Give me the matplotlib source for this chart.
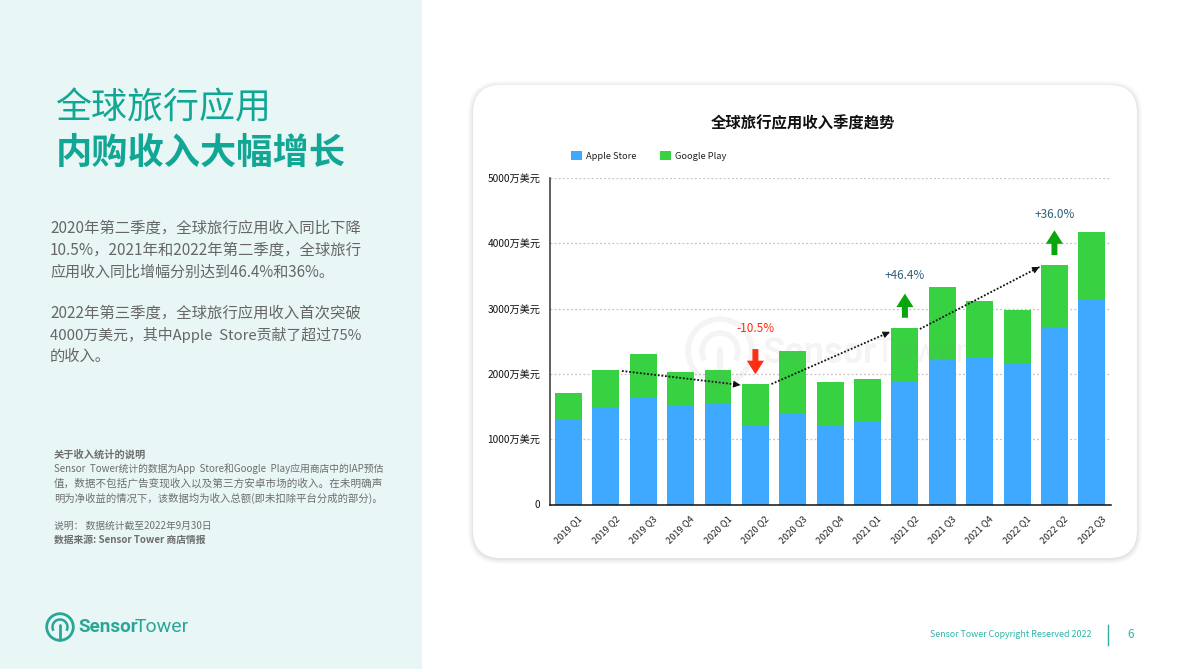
import matplotlib
matplotlib.use("Agg")
import matplotlib.pyplot as plt
from matplotlib.patches import FancyBboxPatch, Rectangle, Circle, Arc

plt.rcParams['font.family'] = ['Noto Sans CJK SC', 'DejaVu Sans']

# ---------- data ----------
quarters = ["2019 Q1", "2019 Q2", "2019 Q3", "2019 Q4", "2020 Q1", "2020 Q2", "2020 Q3", "2020 Q4",
            "2021 Q1", "2021 Q2", "2021 Q3", "2021 Q4", "2022 Q1", "2022 Q2", "2022 Q3"]
apple = [1294, 1482, 1646, 1508, 1539, 1202, 1401, 1202, 1279, 1880, 2228, 2248, 2167, 2718, 3136]
total = [1707, 2060, 2305, 2029, 2060, 1845, 2351, 1876, 1922, 2703, 3330, 3116, 2979, 3668, 4173]
google = [t - a for t, a in zip(total, apple)]
yticks = [0, 1000, 2000, 3000, 4000, 5000]
ytick_labels = ["0", "1000万美元", "2000万美元", "3000万美元", "4000万美元", "5000万美元"]
series_names = ["Apple Store", "Google Play"]
chart_title = "全球旅行应用收入季度趋势"
headline = ["全球旅行应用", "内购收入大幅增长"]
body_lines = ["2020年第二季度，全球旅行应用收入同比下降",
              "10.5%，2021年和2022年第二季度，全球旅行",
              "应用收入同比增幅分别达到46.4%和36%。",
              "2022年第三季度，全球旅行应用收入首次突破",
              "4000万美元，其中Apple  Store贡献了超过75%",
              "的收入。"]
note_lines = ["关于收入统计的说明",
              "Sensor  Tower统计的数据为App  Store和Google  Play应用商店中的IAP预估",
              "值，数据不包括广告变现收入以及第三方安卓市场的收入。在未明确声",
              "明为净收益的情况下，该数据均为收入总额(即未扣除平台分成的部分)。",
              "说明： 数据统计截至2022年9月30日",
              "数据来源: Sensor Tower 商店情报"]

W, H = 1190, 669
BLUE, GREEN = "#3EA9FF", "#38D142"
TEAL = "#12A795"
BRAND = ['Roboto', 'DejaVu Sans']
fig = plt.figure(figsize=(W / 100, H / 100), dpi=100, facecolor="white")

def pixel_axes(z):
    a = fig.add_axes([0, 0, 1, 1], zorder=z)
    a.set_xlim(0, W); a.set_ylim(H, 0); a.axis("off"); a.patch.set_alpha(0)
    return a

# ---------- page background ----------
bg = pixel_axes(0)
bg.add_patch(Rectangle((0, 0), 422, H, fc="#E9F6F6", ec="none"))
for grow, al in [(5, .12), (3.5, .18), (2, .25), (1, .35)]:
    bg.add_patch(FancyBboxPatch((473 - grow, 85 - grow + 1), 664 + 2 * grow, 473 + 2 * grow,
                                boxstyle="round,pad=0,rounding_size=%g" % (28 + grow),
                                fc="#D8D8D8", ec="none", alpha=al))
bg.add_patch(FancyBboxPatch((473, 85), 664, 473, boxstyle="round,pad=0,rounding_size=28",
                            fc="white", ec="none"))

bg.text(55.5, 108, headline[0], fontsize=25.9, color=TEAL, va="center", ha="left")
bg.text(55.5, 153, headline[1], fontsize=26.1, color=TEAL, va="center", ha="left", fontweight="bold")
for y, s, fs in zip([228, 250, 272, 313, 335, 356], body_lines,
                    [11.08, 11.08, 10.83, 11.08, 10.73, 11.0]):
    bg.text(50, y, s, fontsize=fs, color="#666666", va="center", ha="left")
for y, s, fs, w in zip([454.5, 469, 483.5, 498, 526, 540], note_lines,
                       [7.35, 7.07, 7.62, 7.44, 7.07, 7.05],
                       ["bold", "normal", "normal", "normal", "normal", "bold"]):
    bg.text(54, y, s, fontsize=fs, color="#6E6E6E", va="center", ha="left", fontweight=w)

# logo
LOGO = "#2AA697"
bg.add_patch(Circle((60, 627), 13.3, fc="none", ec=LOGO, lw=2.0))
bg.add_patch(Arc((60, 627), 15, 15, theta1=150, theta2=30, ec=LOGO, lw=1.8))
bg.plot([60, 60], [625, 640], color=LOGO, lw=2.0, solid_capstyle="round")
bg.text(78.5, 627, "Sensor", fontsize=13.6, family=BRAND, color=LOGO, fontweight="bold", va="center", ha="left")
bg.text(189, 627, "Tower", fontsize=14.0, family=BRAND, color=LOGO, va="center", ha="right")

# footer
bg.text(1092, 634.5, "Sensor Tower Copyright Reserved 2022", fontsize=6.37, color="#2DB5A8",
        va="center", ha="right")
bg.plot([1107.5, 1107.5], [625, 645], color="#2FAFA3", lw=1)
bg.text(1131, 634, "6", fontsize=8.5, color="#2DB5A8", va="center", ha="center")

# ---------- chart ----------
L, R, T, B = 550, 1110.5, 178, 504.5
ax = fig.add_axes([L / W, 1 - B / H, (R - L) / W, (B - T) / H], zorder=1)
ax.patch.set_alpha(0)
x = list(range(len(quarters)))
b1 = ax.bar(x, apple, width=0.72, color=BLUE, label=series_names[0], zorder=2)
b2 = ax.bar(x, google, bottom=apple, width=0.72, color=GREEN, label=series_names[1], zorder=2)
ax.set_xlim(-0.495, 14.5)
ax.set_ylim(0, 5000)
ax.set_yticks(yticks, ytick_labels)
ax.set_xticks(x, quarters)
ax.tick_params(axis="y", length=0, labelsize=7.3, pad=7, labelcolor="#111111")
ax.tick_params(axis="x", length=0, labelsize=6.7, pad=7, labelcolor="#222222")
for lab in ax.get_xticklabels():
    lab.set_rotation(45); lab.set_ha("center"); lab.set_va("top")
ax.grid(axis="y", color="#C4C4C4", lw=0.9, ls=(0, (1.5, 1.8)), zorder=1)
ax.set_axisbelow(True)
for s in ("top", "right"):
    ax.spines[s].set_visible(False)
ax.spines["left"].set_color("#333333"); ax.spines["left"].set_linewidth(1.1)
ax.spines["bottom"].set_color("#111111"); ax.spines["bottom"].set_linewidth(1.1)
ax.set_title(chart_title, x=(802.5 - L) / (R - L), y=(B - 123) / (B - T), fontsize=11.1, pad=0,
             fontweight="bold", color="#111111", va="center")
ax.legend(handles=[b1, b2], ncol=2, frameon=False, fontsize=6.7, loc="center left",
          bbox_to_anchor=((562 - L) / (R - L), (B - 156) / (B - T)),
          handlelength=1.18, handleheight=1.18, handletextpad=0.45, columnspacing=2.5,
          borderpad=0.5, labelcolor="#222222")

# trend arrows between compared quarters
def trend(i, j, dy0=0, dy1=0, dx0=0.43, dx1=-0.40):
    x0, y0, x1, y1 = i + dx0, total[i] + dy0, j + dx1, total[j] + dy1
    ax.plot([x0, x1], [y0, y1], color="#111111", lw=1.3, ls=(0, (1, 1)), zorder=4)
    f = 0.95
    ax.annotate("", xy=(x1, y1), xytext=(x0 + (x1 - x0) * f, y0 + (y1 - y0) * f), zorder=5,
                arrowprops=dict(arrowstyle="-|>,head_length=0.45,head_width=0.22", color="#111111",
                                lw=0.8, shrinkA=0, shrinkB=0, mutation_scale=9))
trend(1, 5, dy0=-15, dy1=-15)
trend(5, 9, dy0=0, dy1=-60, dx0=0.43, dx1=-0.40)
trend(9, 13, dy0=-15, dy1=-30, dx0=0.40, dx1=-0.40)

# change labels with arrows
changes = [(5, "-10.5%", "#FF2D12", 2690, 2380, 1995),
           (9, "+46.4%", "#2F6079", 3510, 2860, 3230),
           (13, "+36.0%", "#2F6079", 4440, 3820, 4200)]
for i, s, col, ty, y0, y1 in changes:
    ax.text(i, ty, s, fontsize=8.5, color=col, ha="center", va="center", zorder=6)
    acol = col if s.startswith("-") else "#08A50C"
    ax.annotate("", xy=(i, y1), xytext=(i, y0), zorder=6,
                arrowprops=dict(arrowstyle="simple,head_length=0.75,head_width=0.95,tail_width=0.33",
                                color=acol, lw=0, shrinkA=0, shrinkB=0, mutation_scale=13))

# ---------- watermark ----------
top = pixel_axes(2)
wm = "#8A8A8A"
top.add_patch(Circle((720, 351), 32, fc="none", ec=wm, lw=4, alpha=0.09))
top.add_patch(Arc((720, 351), 36, 36, theta1=150, theta2=30, ec=wm, lw=4, alpha=0.09))
top.plot([720, 720], [350, 384], color=wm, lw=4.5, alpha=0.09, solid_capstyle="round")
top.text(763, 353, "Sensor", fontsize=26, family=BRAND, color=wm, fontweight="bold", alpha=0.09, va="center", ha="left")
top.text(967, 353, "Tower", fontsize=24, family=BRAND, color=wm, alpha=0.09, va="center", ha="right")

fig.savefig("out.png", dpi=100)
